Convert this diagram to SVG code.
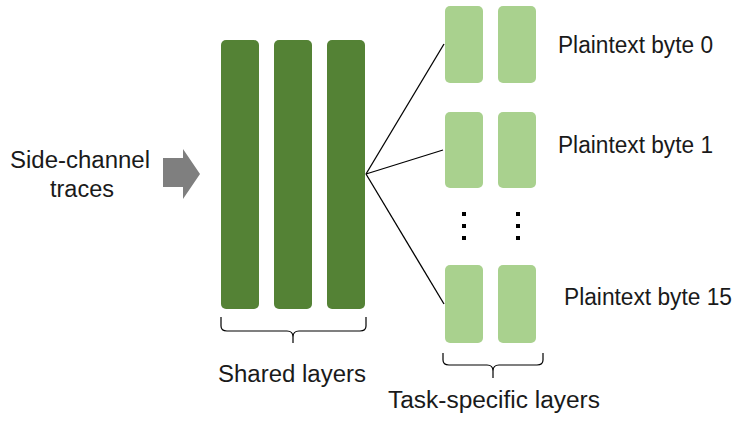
<svg xmlns="http://www.w3.org/2000/svg" width="733" height="421" viewBox="0 0 733 421">
<style>
.dark{fill:#548235}
.light{fill:#A9D18E}
.lbl{font-family:"Liberation Sans",Arial,sans-serif;font-size:23px;fill:#1a1a1a}
.ln{stroke:#000;stroke-width:1.3;fill:none}
.br{stroke:#000;stroke-width:1.2;fill:none}
.dot{fill:#000}
</style>
<rect width="733" height="421" fill="#fff"/>
<g id="input">
<text class="lbl" x="80" y="168" text-anchor="middle" textLength="140" lengthAdjust="spacingAndGlyphs">Side-channel</text>
<text class="lbl" x="82" y="197" text-anchor="middle" textLength="64" lengthAdjust="spacingAndGlyphs">traces</text>
</g>
<g id="arrow">
<polygon points="163,158 183,158 183,149 200,174 183,199 183,187 163,187" fill="#7F7F7F"/>
</g>
<g id="shared-layers">
<rect class="dark" x="221" y="40" width="38" height="269" rx="5"/>
<rect class="dark" x="274" y="40" width="38" height="269" rx="5"/>
<rect class="dark" x="327" y="40" width="38" height="269" rx="5"/>
</g>
<g id="task0">
<rect class="light" x="445" y="6" width="38" height="77" rx="5"/>
<rect class="light" x="498" y="6" width="38" height="77" rx="5"/>
<text class="lbl" x="558" y="53" textLength="155" lengthAdjust="spacingAndGlyphs">Plaintext byte 0</text>
</g>
<g id="task1">
<rect class="light" x="445" y="112" width="38" height="76" rx="5"/>
<rect class="light" x="498" y="112" width="38" height="76" rx="5"/>
<text class="lbl" x="558" y="153" textLength="155" lengthAdjust="spacingAndGlyphs">Plaintext byte 1</text>
</g>
<g id="ellipsis">
<rect class="dot" x="462" y="212" width="4" height="4"/>
<rect class="dot" x="462" y="224" width="4" height="4"/>
<rect class="dot" x="462" y="236" width="4" height="4"/>
<rect class="dot" x="516" y="212" width="4" height="4"/>
<rect class="dot" x="516" y="224" width="4" height="4"/>
<rect class="dot" x="516" y="236" width="4" height="4"/>
</g>
<g id="task15">
<rect class="light" x="445" y="265" width="38" height="78" rx="5"/>
<rect class="light" x="498" y="265" width="38" height="78" rx="5"/>
<text class="lbl" x="564" y="305" textLength="168" lengthAdjust="spacingAndGlyphs">Plaintext byte 15</text>
</g>
<g id="connectors">
<line class="ln" x1="366" y1="174" x2="444" y2="44"/>
<line class="ln" x1="366" y1="174" x2="443" y2="150"/>
<line class="ln" x1="366" y1="174" x2="444" y2="304"/>
</g>
<g id="shared-brace">
<path class="br" d="M221,317 V326 Q221,331 227,331 H287 Q293,331 293,337 V343 M366,317 V326 Q366,331 360,331 H299 Q293,331 293,337"/>
<text class="lbl" x="292" y="382" text-anchor="middle" textLength="148" lengthAdjust="spacingAndGlyphs">Shared layers</text>
</g>
<g id="task-brace">
<path class="br" d="M443,353 V360 Q443,365 449,365 H487 Q493,365 493,371 V378 M543,353 V360 Q543,365 537,365 H499 Q493,365 493,371"/>
<text class="lbl" x="494" y="408" text-anchor="middle" textLength="212" lengthAdjust="spacingAndGlyphs">Task-specific layers</text>
</g>
</svg>
